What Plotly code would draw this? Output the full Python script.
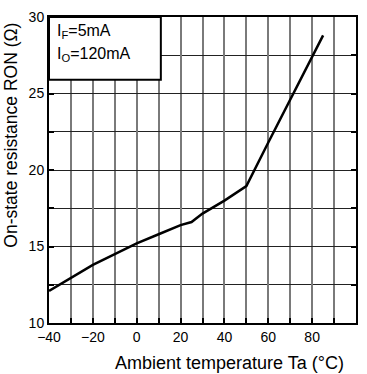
import plotly.graph_objects as go

temp = [-40, -30, -20, -10, 0, 10, 20, 25, 30, 40, 50, 60, 70, 80, 85]
ron = [12.1, 12.95, 13.8, 14.5, 15.2, 15.8, 16.4, 16.6, 17.15, 18.0, 18.95, 21.8, 24.6, 27.4, 28.8]

x_title = "Ambient temperature Ta (°C)"
y_title = "On-state resistance RON (Ω)"
legend_lines = ["I<sub>F</sub>=5mA", "I<sub>O</sub>=120mA"]

fig = go.Figure()
fig.add_trace(go.Scatter(x=temp, y=ron, mode="lines",
                         line=dict(color="black", width=2.5), showlegend=False))

font = "Liberation Sans, Arial, sans-serif"
L, R, T, B = 49, 9, 13, 51
W, H = 367, 374
pw, ph = W - L - R, H - T - B

fig.update_layout(
    width=W, height=H,
    margin=dict(l=L, r=R, t=T, b=B),
    paper_bgcolor="white", plot_bgcolor="white",
    font=dict(family=font, size=14, color="black"),
    xaxis=dict(range=[-40, 100], tick0=-40, dtick=20,
               showgrid=True, gridcolor="#7a7a7a", gridwidth=1.5,
               ticks="inside", ticklen=5, tickcolor="black", tickwidth=1.5,
               minor=dict(dtick=10, showgrid=True, gridcolor="#7a7a7a", gridwidth=1.5,
                          ticks="inside", ticklen=5, tickcolor="black", tickwidth=1.5),
               showline=True, linecolor="black", linewidth=2, mirror=True,
               zeroline=False, tickfont=dict(size=14), ticklabelstandoff=0),
    yaxis=dict(range=[10, 30], tick0=10, dtick=5,
               showgrid=True, gridcolor="#222222", gridwidth=1,
               ticks="inside", ticklen=5, tickcolor="black", tickwidth=1.5,
               minor=dict(dtick=2.5, showgrid=True, gridcolor="#222222", gridwidth=1,
                          ticks="inside", ticklen=5, tickcolor="black", tickwidth=1.5),
               showline=True, linecolor="black", linewidth=2, mirror="ticks",
               zeroline=False, tickfont=dict(size=14)),
)

fig.add_shape(type="rect", x0=-40, x1=11, y0=25.9, y1=30, xref="x", yref="y",
              line=dict(color="black", width=2), fillcolor="white", layer="above")
for txt, cy in zip(legend_lines, [28, 51]):
    fig.add_annotation(x=(55 - L) / pw, y=1 - (cy - T) / ph, xref="paper", yref="paper",
                       xanchor="left", yanchor="middle",
                       text=txt, showarrow=False,
                       align="left", font=dict(size=16))
fig.add_annotation(x=(231 - L) / pw, y=-(364 - (H - B)) / ph, xref="paper", yref="paper",
                   xanchor="center", yanchor="middle",
                   text=x_title, showarrow=False, font=dict(size=18))
fig.add_annotation(x=(11 - L) / pw, y=1 - (133 - T) / ph, xref="paper", yref="paper",
                   xanchor="center", yanchor="middle", textangle=-90,
                   text=y_title, showarrow=False, font=dict(size=17.5))

fig.write_html("out.html")
